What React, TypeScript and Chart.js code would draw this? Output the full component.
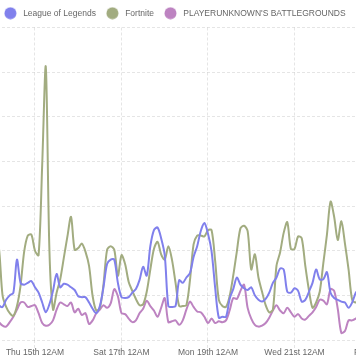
import React, { useEffect, useRef } from 'react';
import { Chart, registerables } from 'chart.js';

Chart.register(...registerables);

// ---- data ----
const SERIES_NAMES = ['League of Legends', 'Fortnite', "PLAYERUNKNOWN'S BATTLEGROUNDS"];
const SERIES_COLORS = ['#8080ec', '#a2ac80', '#bd83c1'];

// hourly grid: first sample hour (relative to Thu 15th 12AM) and spacing
const START_HOUR = -22;
const STEP_HOURS = 2;

// viewers (thousands), one value every 2 hours
const LOL = [
  45, 39, 37, 45, 50, 53, 90, 64, 62, 64, 66,
  59, 53, 42, 31, 40, 55, 74, 59, 63, 62, 59, 56, 49, 48, 48, 42, 35, 30, 38, 59, 85, 90, 90, 64,
  48, 47, 48, 53, 57, 67, 82, 72, 105, 123, 126, 114, 95, 38, 37, 38, 67, 64, 70, 75, 93, 105, 122, 131,
  119, 99, 58, 25, 26, 26, 46, 57, 70, 62, 58, 56, 59, 50, 45, 43, 46, 53, 64, 70, 80, 79, 54, 53,
  58, 55, 43, 45, 54, 64, 79, 68, 68, 76, 53, 47, 45, 43, 42, 36, 42, 53, 58,
];
const FORTNITE = [
  118, 103, 50, 37, 30, 27, 38, 61, 99, 117, 118,
  100, 95, 196, 306, 101, 34, 53, 68, 92, 116, 138, 101, 103, 108, 99, 83, 49, 33, 36, 62, 101, 105, 101, 72,
  95, 85, 65, 55, 46, 39, 40, 54, 79, 102, 110, 96, 90, 105, 90, 64, 38, 38, 39, 67, 107, 117, 117, 116,
  123, 123, 88, 45, 38, 37, 49, 72, 99, 125, 128, 122, 79, 96, 70, 54, 39, 31, 34, 83, 98, 120, 132, 102,
  102, 116, 114, 83, 56, 36, 42, 54, 86, 118, 155, 138, 112, 133, 108, 79, 45, 42, 50,
];
const PUBG = [
  25, 20, 16, 15, 20, 26, 34, 42, 42, 37, 38,
  39, 30, 19, 16, 17, 22, 34, 42, 40, 38, 42, 31, 35, 28, 30, 18, 22, 30, 34, 39, 36, 41, 57, 49,
  30, 29, 24, 20, 22, 30, 35, 44, 38, 33, 26, 36, 47, 20, 21, 22, 17, 22, 34, 43, 37, 32, 31, 26,
  19, 24, 19, 21, 20, 22, 33, 47, 46, 55, 62, 36, 24, 17, 15, 16, 19, 25, 33, 39, 33, 30, 36, 31,
  26, 29, 24, 23, 27, 31, 37, 45, 44, 40, 57, 55, 35, 8, 10, 22, 22, 24, 27,
];

const TICK_HOURS = [0, 48, 96, 144, 192];
const TICK_LABELS = ['Thu 15th 12AM', 'Sat 17th 12AM', 'Mon 19th 12AM', 'Wed 21st 12AM', 'Fri 23rd 12AM'];

const X_MIN = -38;
const X_MAX = 192;
const Y_MAX = 350;
const Y_STEP = 50;

// ---- layout (the reference is a crop of a wider chart) ----
const VIEW_W = 356;
const VIEW_H = 364;
const CANVAS_SHIFT = 60;
const PAD_L = 26.5;
const PAD_R = 40;
const CANVAS_W = 381 + CANVAS_SHIFT + PAD_R;

const GRID = 'rgba(0,0,0,0.1)';
const DASH = [3, 2];

export default function App() {
  const ref = useRef<HTMLCanvasElement | null>(null);

  useEffect(() => {
    Chart.defaults.font.family = "'Liberation Sans', Arial, Helvetica, sans-serif";
    Chart.defaults.color = '#666';

    const markers = SERIES_COLORS.map((c) => {
      const m = document.createElement('canvas');
      m.width = 13;
      m.height = 13;
      const g = m.getContext('2d')!;
      g.fillStyle = c;
      g.beginPath();
      g.arc(6.5, 6.5, 6, 0, Math.PI * 2);
      g.fill();
      return m;
    });

    const series = [LOL, FORTNITE, PUBG];
    const chart = new Chart(ref.current!, {
      type: 'line',
      data: {
        datasets: series.map((vals, i) => ({
          label: SERIES_NAMES[i],
          data: vals.map((v, j) => ({ x: START_HOUR + j * STEP_HOURS, y: v })),
          borderColor: SERIES_COLORS[i],
          backgroundColor: SERIES_COLORS[i],
          borderWidth: 2,
          pointRadius: 0,
          tension: 0.3,
          fill: false,
        })),
      },
      options: {
        responsive: false,
        animation: false,
        devicePixelRatio: 1,
        layout: { padding: { left: PAD_L, right: PAD_R, top: 1, bottom: 5.8 } },
        plugins: {
          tooltip: { enabled: false },
          legend: {
            labels: {
              usePointStyle: true,
              pointStyleWidth: 17,
              padding: 8,
              color: '#666',
              font: { size: 8.5 },
              generateLabels: (c: any) =>
                (Chart.defaults.plugins.legend.labels.generateLabels as any)(c).map((item: any, i: number) => ({
                  ...item,
                  pointStyle: markers[i],
                })),
            },
          },
        },
        scales: {
          x: {
            type: 'linear',
            min: X_MIN,
            max: X_MAX,
            afterBuildTicks: (s: any) => {
              s.ticks = TICK_HOURS.map((v) => ({ value: v }));
            },
            ticks: {
              callback: (_v: any, i: number) => TICK_LABELS[i],
              maxRotation: 0,
              autoSkip: false,
              padding: 0,
              color: '#666',
              font: { size: 8.5 },
            },
            grid: { color: GRID, tickColor: GRID, tickLength: 8, tickBorderDash: DASH },
            border: { display: false, dash: DASH },
          },
          y: {
            min: 0,
            max: Y_MAX,
            ticks: { display: false, stepSize: Y_STEP },
            grid: { color: GRID, drawTicks: false },
            border: { display: false, dash: DASH },
          },
        },
      },
    } as any);

    return () => chart.destroy();
  }, []);

  return (
    <div
      style={{
        position: 'fixed',
        left: 0,
        top: 0,
        width: VIEW_W,
        height: VIEW_H,
        overflow: 'hidden',
        background: '#fff',
      }}
    >
      <canvas
        ref={ref}
        width={CANVAS_W}
        height={VIEW_H}
        style={{ position: 'absolute', left: -CANVAS_SHIFT, top: 0, width: CANVAS_W, height: VIEW_H }}
      />
    </div>
  );
}
